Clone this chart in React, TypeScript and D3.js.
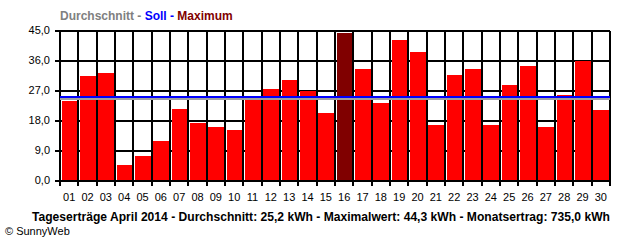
import * as d3 from "d3";

// Tageserträge April 2014 (kWh)
const days = [
  "01", "02", "03", "04", "05", "06", "07", "08", "09", "10",
  "11", "12", "13", "14", "15", "16", "17", "18", "19", "20",
  "21", "22", "23", "24", "25", "26", "27", "28", "29", "30",
];
const yields = [
  24.0, 31.5, 32.4, 4.8, 7.5, 12.0, 21.6, 17.4, 16.2, 15.3,
  24.3, 27.6, 30.3, 27.1, 20.4, 44.3, 33.6, 23.4, 42.3, 38.7,
  16.8, 31.8, 33.6, 16.8, 28.8, 34.5, 16.2, 25.8, 36.1, 21.3,
];
const yTicks = [0, 9, 18, 27, 36, 45];
const average = 25.2;
const target = 25.2;
const maximum = 44.3;
const monthTotal = 735.0;

const fmt = (v: number) => v.toFixed(1).replace(".", ",");

export default function App() {
  const width = 640;
  const height = 240;
  const left = 60;
  const right = 610;
  const top = 31;
  const bottom = 181;

  const x = d3.scaleBand<string>().domain(days).range([left, right]).padding(0);
  const y = d3.scaleLinear().domain([0, 45]).range([bottom, top]);
  const step = x.step();
  const maxIdx = yields.indexOf(d3.max(yields)!);

  const boundaries = d3.range(days.length + 1).map((i) => left + i * step);
  const font = "'Liberation Sans', Arial, sans-serif";

  return (
    <svg
      width={width}
      height={height}
      style={{ position: "absolute", left: 0, top: 0, background: "#fff" }}
      fontFamily={font}
    >
      {/* legend */}
      <text x={left} y={20} fontSize={12} fontWeight="bold">
        <tspan fill="#808080">Durchschnitt - </tspan>
        <tspan fill="#0000ff">Soll - </tspan>
        <tspan fill="#800000">Maximum</tspan>
      </text>

      {/* grid */}
      <g stroke="#000" strokeWidth={2} shapeRendering="crispEdges">
        {yTicks.map((t) => (
          <line key={t} x1={left - 5} x2={right} y1={y(t)} y2={y(t)} />
        ))}
        {boundaries.map((b, i) => (
          <line key={i} x1={b} x2={b} y1={top} y2={bottom + 5} />
        ))}
      </g>

      {/* bars */}
      <g shapeRendering="crispEdges">
        {yields.map((v, i) => (
          <rect
            key={days[i]}
            x={x(days[i])! + 1.5}
            y={y(v)}
            width={step - 2.5}
            height={bottom - 1 - y(v)}
            fill={i === maxIdx ? "#800000" : "#ff0000"}
          />
        ))}
      </g>

      {/* average + target lines */}
      <line
        x1={left}
        x2={right}
        y1={y(average) + 1.5}
        y2={y(average) + 1.5}
        stroke="#a0a0a0"
        strokeWidth={2}
        shapeRendering="crispEdges"
      />
      <line
        x1={left}
        x2={right}
        y1={y(target)}
        y2={y(target)}
        stroke="#0000ff"
        strokeWidth={2}
        shapeRendering="crispEdges"
      />

      {/* zero axis on top */}
      <line
        x1={left - 5}
        x2={right}
        y1={y(0)}
        y2={y(0)}
        stroke="#000"
        strokeWidth={2}
        shapeRendering="crispEdges"
      />

      {/* y labels */}
      {yTicks.map((t) => (
        <text key={t} x={50} y={y(t) + 3} fontSize={11} textAnchor="end" fill="#000">
          {fmt(t)}
        </text>
      ))}

      {/* x labels */}
      {days.map((d) => (
        <text
          key={d}
          x={x(d)! + step / 2}
          y={201}
          fontSize={11}
          textAnchor="middle"
          fill="#000"
        >
          {d}
        </text>
      ))}

      {/* footer */}
      <text x={right} y={221} fontSize={12.1} fontWeight="bold" textAnchor="end">
        {`Tageserträge April 2014 - Durchschnitt: ${fmt(average)} kWh - Maximalwert: ${fmt(
          maximum
        )} kWh - Monatsertrag: ${fmt(monthTotal)} kWh`}
      </text>
      <text x={5} y={235} fontSize={11}>
        © SunnyWeb
      </text>
    </svg>
  );
}
